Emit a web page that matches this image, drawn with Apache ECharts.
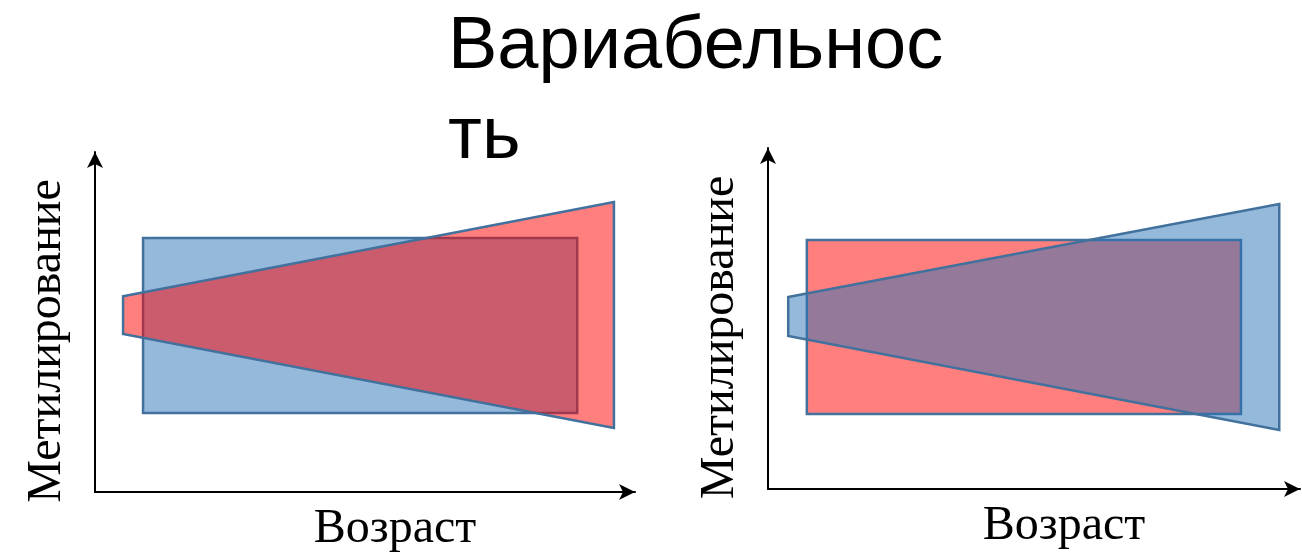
<!DOCTYPE html>
<html>
<head>
<meta charset="utf-8">
<script src="https://cdn.jsdelivr.net/npm/echarts@6/dist/echarts.min.js"></script>
<style>html,body{margin:0;padding:0;background:#fff;}#c{width:1302px;height:552px;}</style>
</head>
<body>
<div id="c"></div>
<script>
// ---- data ----
const titleText = 'Вариабельнос\nть';
const yName = 'Метилирование';
const xName = 'Возраст';
// rectangles: [xStart, xEnd, yLow, yHigh]
const leftRect = [8.9, 89.3, 23.2, 74.7];
const rightRect = [7.3, 88.9, 22.0, 73.0];
// wedges: [xLeft, xRight, leftTop, leftBottom, rightTop, rightBottom]
const leftWedge = [5.2, 96.1, 57.6, 46.5, 85.3, 18.8];
const rightWedge = [3.8, 96.1, 56.3, 44.9, 83.6, 17.3];

const BLUE = 'rgba(43,115,183,0.5)';
const RED = 'rgba(255,0,0,0.5)';
const EDGE = '#41719C';

function rectItem(params, api) {
  const x0 = api.value(0), x1 = api.value(1), y0 = api.value(2), y1 = api.value(3);
  const pts = [api.coord([x0, y1]), api.coord([x1, y1]), api.coord([x1, y0]), api.coord([x0, y0])];
  return { type: 'polygon', shape: { points: pts }, style: { fill: api.visual('color'), stroke: EDGE, lineWidth: 2.5 } };
}
function wedgeItem(params, api) {
  const xl = api.value(0), xr = api.value(1);
  const pts = [api.coord([xl, api.value(2)]), api.coord([xr, api.value(4)]), api.coord([xr, api.value(5)]), api.coord([xl, api.value(3)])];
  return { type: 'polygon', shape: { points: pts }, style: { fill: api.visual('color'), stroke: EDGE, lineWidth: 2.5 } };
}

function mkX(gi) {
  return {
    type: 'value', gridIndex: gi, min: 0, max: 100,
    name: xName, nameLocation: 'middle', nameGap: 13,
    nameTextStyle: { fontFamily: 'Liberation Serif', fontSize: 48, color: '#000', verticalAlign: 'top', padding: [0, 0, 0, 60] },
    axisLine: { show: true, onZero: false, symbol: ['none', 'arrow'], symbolSize: [12, 16], lineStyle: { color: '#000', width: 2 } },
    axisTick: { show: false }, axisLabel: { show: false }, splitLine: { show: false }
  };
}
function mkY(gi) {
  return {
    type: 'value', gridIndex: gi, min: 0, max: 100,
    name: yName, nameLocation: 'middle', nameGap: 24, nameRotate: 90,
    nameTextStyle: { fontFamily: 'Liberation Serif', fontSize: 48, color: '#000', padding: [0, 38, 0, 0] },
    axisLine: { show: true, onZero: false, symbol: ['none', 'arrow'], symbolSize: [12, 16], lineStyle: { color: '#000', width: 2 } },
    axisTick: { show: false }, axisLabel: { show: false }, splitLine: { show: false }
  };
}

const chart = echarts.init(document.getElementById('c'), null, { renderer: 'canvas' });
chart.setOption({
  backgroundColor: '#fff',
  animation: false,
  title: {
    text: titleText, left: 443, top: -2,
    textStyle: { fontFamily: 'Liberation Sans', fontSize: 74, fontWeight: 'normal', color: '#000', lineHeight: 90 }
  },
  grid: [
    { left: 95, top: 152, width: 540, height: 340, outerBoundsMode: 'none', containLabel: false },
    { left: 768, top: 148, width: 532, height: 341, outerBoundsMode: 'none', containLabel: false }
  ],
  xAxis: [mkX(0), mkX(1)],
  yAxis: [mkY(0), mkY(1)],
  series: [
    { type: 'custom', xAxisIndex: 0, yAxisIndex: 0, itemStyle: { color: BLUE }, renderItem: rectItem, data: [leftRect], z: 1 },
    { type: 'custom', xAxisIndex: 0, yAxisIndex: 0, itemStyle: { color: RED }, renderItem: wedgeItem, data: [leftWedge], z: 2 },
    { type: 'custom', xAxisIndex: 1, yAxisIndex: 1, itemStyle: { color: RED }, renderItem: rectItem, data: [rightRect], z: 1 },
    { type: 'custom', xAxisIndex: 1, yAxisIndex: 1, itemStyle: { color: BLUE }, renderItem: wedgeItem, data: [rightWedge], z: 2 }
  ]
});
</script>
</body>
</html>
